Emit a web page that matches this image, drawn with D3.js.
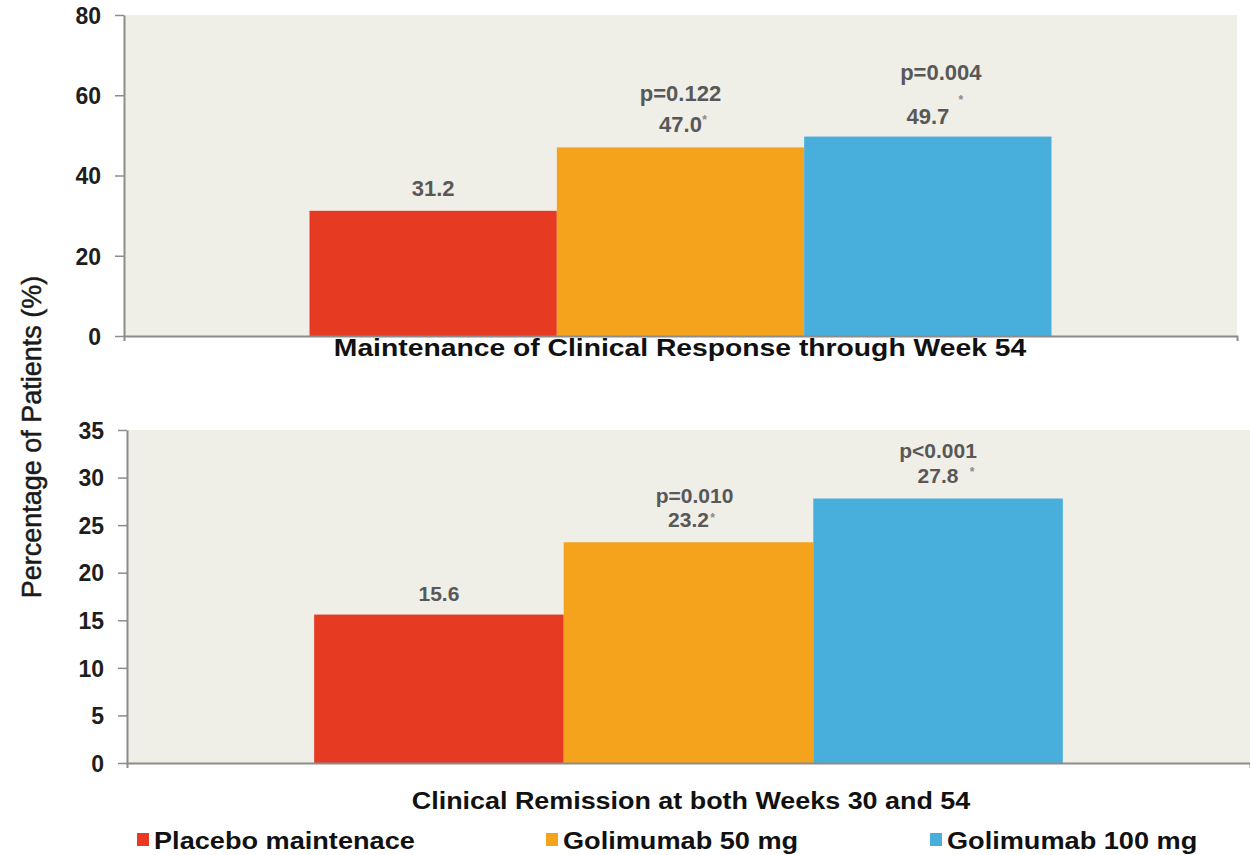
<!DOCTYPE html>
<html>
<head>
<meta charset="utf-8">
<script src="https://cdn.jsdelivr.net/npm/d3@7"></script>
<style>
  html, body { margin: 0; padding: 0; background: #ffffff; }
  svg { display: block; }
  text { font-family: "Liberation Sans", Arial, Helvetica, sans-serif; }
</style>
</head>
<body>
<svg id="chart" width="1250" height="855"></svg>
<script>
// ---------------- data ----------------
const series = ["Placebo maintenace", "Golimumab 50 mg", "Golimumab 100 mg"];
const seriesColors = ["#e63a22", "#f5a31c", "#48afdc"];
const panelTitles = ["Maintenance of Clinical Response through Week 54", "Clinical Remission at both Weeks 30 and 54"];
const responseValues = [31.2, 47.0, 49.7];
const remissionValues = [15.6, 23.2, 27.8];
const responsePLabels = ["", "p=0.122", "p=0.004"];
const remissionPLabels = ["", "p=0.010", "p<0.001"];
const responseStars = [false, true, true];
const remissionStars = [false, true, true];
const responseTicks = [0, 20, 40, 60, 80];
const remissionTicks = [0, 5, 10, 15, 20, 25, 30, 35];
const yAxisTitle = "Percentage of Patients (%)";

// ---------------- layout ----------------
const svg = d3.select("#chart");
const wide = 1.18; // horizontal stretch of the legend lettering
const panels = [
  { values: responseValues, p: responsePLabels, stars: responseStars, ticks: responseTicks, title: panelTitles[0],
    x0: 124, x1: 1237, y0: 15, y1: 336, titleX: 680, titleY: 356, titleWide: 1.23, labelFont: 22,
    valueGap: [15, 15, 13], pGap: [0, 31, 44], pDx: [0, 0, 13], star: [null, [24, -16], [33, -28]] },
  { values: remissionValues, p: remissionPLabels, stars: remissionStars, ticks: remissionTicks, title: panelTitles[1],
    x0: 127, x1: 1250, y0: 430, y1: 763, titleX: 691, titleY: 809, titleWide: 1.17, labelFont: 21,
    valueGap: [14, 15, 16], pGap: [0, 24, 25], pDx: [0, 6, 0], star: [null, [24, -13], [34, -15]] }
];

panels.forEach(P => {
  const g = svg.append("g");
  const x = d3.scaleBand().domain(series).range([P.x0, P.x1]).paddingInner(0).paddingOuter(0.75);
  const y = d3.scaleLinear().domain([0, d3.max(P.ticks)]).range([P.y1, P.y0]);

  // plot background
  g.append("rect").attr("x", P.x0).attr("y", P.y0)
    .attr("width", P.x1 - P.x0).attr("height", P.y1 - P.y0)
    .attr("fill", "#efeee7");

  // bars
  g.selectAll("rect.bar").data(P.values).join("rect")
    .attr("class", "bar")
    .attr("x", (d, i) => x(series[i]))
    .attr("width", x.bandwidth())
    .attr("y", d => y(d))
    .attr("height", d => y(0) - y(d))
    .attr("fill", (d, i) => seriesColors[i]);

  // y axis
  const ya = g.append("g").attr("transform", `translate(${P.x0},0)`)
    .call(d3.axisLeft(y).tickValues(P.ticks).tickSize(9).tickSizeOuter(0).tickPadding(14).tickFormat(d3.format("d")));
  ya.select(".domain").attr("stroke", "#8c8c8c").attr("stroke-width", 2);
  ya.selectAll(".tick line").attr("stroke", "#8c8c8c").attr("stroke-width", 1.5);
  ya.selectAll(".tick text").attr("fill", "#1e1e1e").style("font-size", "23px").style("font-weight", "bold")
    .attr("dy", "0.36em");

  // x baseline
  const xl = d3.scaleLinear().range([P.x0, P.x1]);
  const xa = g.append("g").attr("transform", `translate(0,${P.y1})`)
    .call(d3.axisBottom(xl).tickValues([]).tickSizeOuter(5));
  xa.select(".domain").attr("stroke", "#8c8c8c").attr("stroke-width", 2);

  // value labels
  const cx = i => x(series[i]) + x.bandwidth() / 2;
  P.values.forEach((v, i) => {
    const ty = y(v) - P.valueGap[i];
    g.append("text").attr("x", cx(i)).attr("y", ty)
      .attr("text-anchor", "middle").attr("fill", "#585858")
      .style("font-size", P.labelFont + "px").style("font-weight", "bold")
      .text(d3.format(".1f")(v));
    if (P.p[i]) {
      g.append("text").attr("x", cx(i) + P.pDx[i]).attr("y", ty - P.pGap[i])
        .attr("text-anchor", "middle").attr("fill", "#585858")
        .style("font-size", P.labelFont + "px").style("font-weight", "bold")
        .text(P.p[i]);
    }
    if (P.stars[i]) {
      g.append("text").attr("x", cx(i) + P.star[i][0]).attr("y", ty + P.star[i][1] + 8)
        .attr("text-anchor", "middle").attr("fill", "#8a8a8a")
        .style("font-size", "12px").style("font-weight", "bold")
        .text("*");
    }
  });

  // panel title
  g.append("text").attr("transform", `translate(${P.titleX},${P.titleY}) scale(${P.titleWide},1)`)
    .attr("text-anchor", "middle").attr("fill", "#111")
    .style("font-size", "23px").style("font-weight", "bold")
    .text(P.title);
});

// y axis title
svg.append("text")
  .attr("transform", "translate(41,437) rotate(-90)")
  .attr("text-anchor", "middle").attr("fill", "#1a1a1a")
  .attr("stroke", "#1a1a1a").attr("stroke-width", 0.5)
  .style("font-size", "27px")
  .text(yAxisTitle);

// legend
const legendX = [137, 546, 930];
const lg = svg.append("g");
series.forEach((s, i) => {
  lg.append("rect").attr("x", legendX[i]).attr("y", 833).attr("width", 12).attr("height", 13)
    .attr("fill", seriesColors[i]);
  lg.append("text").attr("transform", `translate(${legendX[i] + 17},849) scale(${wide},1)`)
    .attr("fill", "#111").style("font-size", "23px").style("font-weight", "bold")
    .text(s);
});
</script>
</body>
</html>
